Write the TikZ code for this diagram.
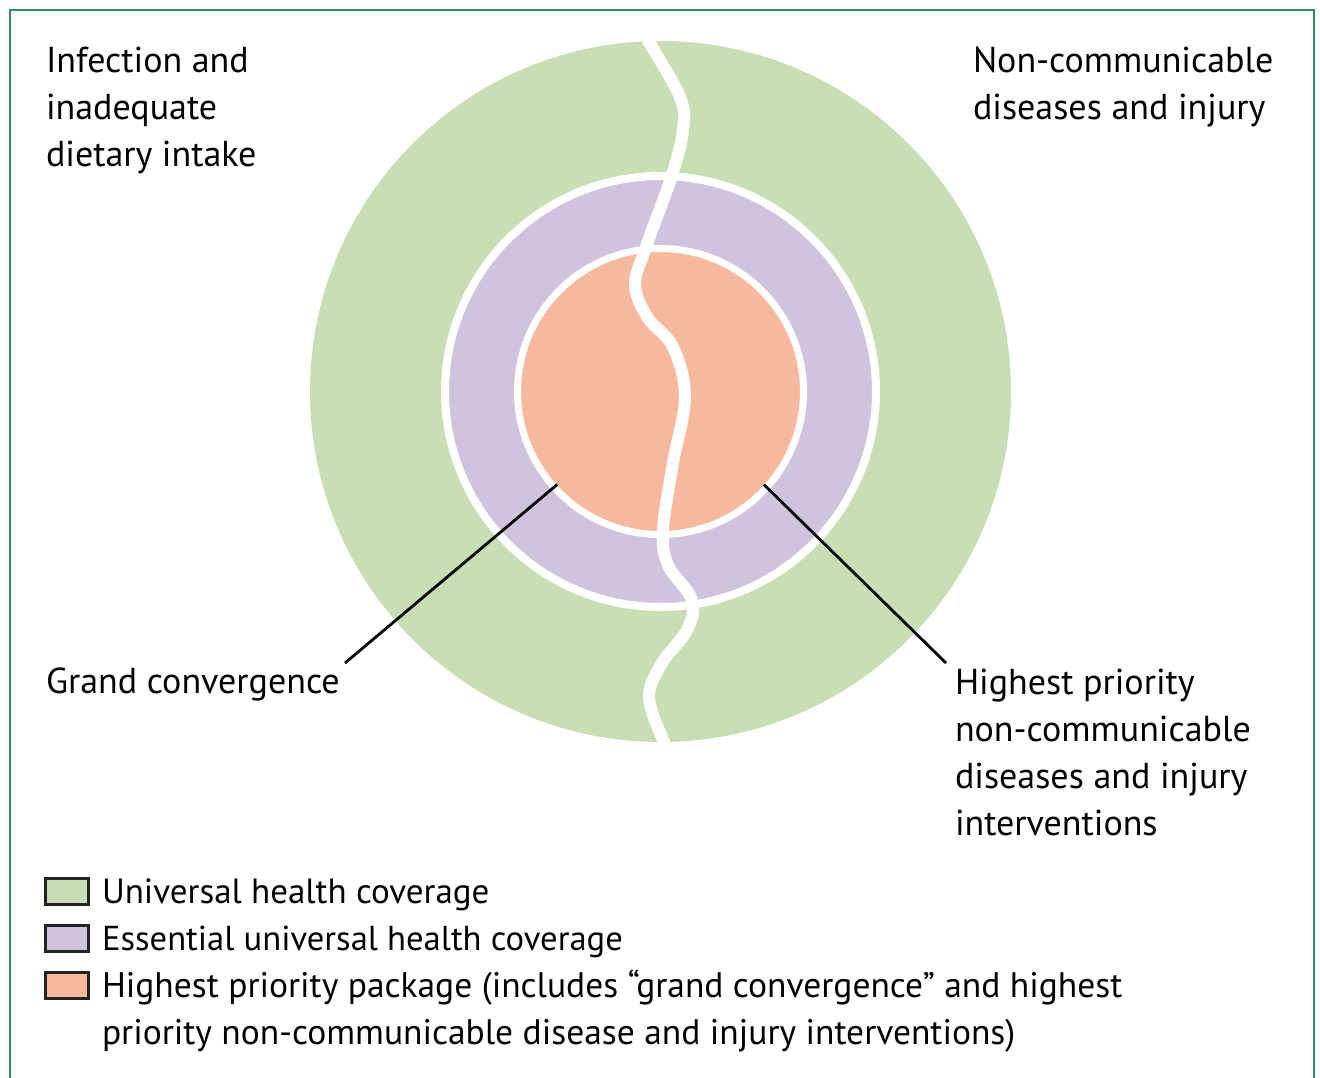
\documentclass[tikz,border=0pt]{standalone}
\usepackage{fontspec}
\setmainfont{PT Sans}
\definecolor{uhc}{RGB}{200,222,180}
\definecolor{euhc}{RGB}{208,195,222}
\definecolor{hpp}{RGB}{248,184,158}
\definecolor{framecol}{RGB}{46,140,86}
\definecolor{boxline}{RGB}{35,35,35}
\begin{document}
\begin{tikzpicture}[x=1pt,y=-1pt,
  lbl/.style={anchor=base west, inner sep=0pt, outer sep=0pt, align=left, font=\fontsize{36}{47}\selectfont},
  leglbl/.style={lbl, font=\fontsize{35}{47}\selectfont},
  leader/.style={line width=2.8pt, black},
  legbox/.style={draw=boxline, line width=2.5pt, minimum width=43pt, minimum height=26pt, inner sep=0pt, anchor=north west},
  ring/.style={circle, draw=white, inner sep=0pt}]
\useasboundingbox (0,0) rectangle (1320,1077);
\clip (0,0) rectangle (1320,1077);
\draw[framecol, line width=2pt] (10,1100) -- (10,10) -- (1314,10) -- (1314,1100);
% circles
\node[circle, fill=uhc, inner sep=0pt, minimum size=701pt] (uhc) at (660.5,391.5) {};
\node[ring, fill=euhc, line width=8pt, minimum size=431pt] (euhc) at (660.5,391.5) {};
\node[ring, fill=hpp, line width=7pt, minimum size=286pt] (hp) at (660.5,391.5) {};
% wavy divider
\draw[white, line width=12pt, line cap=round] plot[smooth, tension=0.6] coordinates {
 (638,22) (649,42) (680,97) (683,130) (672,175) (646,247) (635,285) (648,318) (673,347)
 (685,397) (673,463) (663,530) (668,565) (692,600) (687,630) (662,663) (649,697) (663,740) (672,758)};
% labels (base anchor = baseline of last line)
\node[lbl] (inf) at (46,166) {Infection and\\inadequate\\dietary intake};
\node[lbl] (ncd) at (973,119) {Non-communicable\\diseases and injury};
\node[lbl] (gc) at (46,693) {Grand convergence};
\node[lbl] (hpn) at (955,835) {Highest priority\\non-communicable\\diseases and injury\\interventions};
% leaders
\coordinate (gcend) at (345,663);
\coordinate (hpend) at (946,663);
\draw[leader] (hp.center) ++(138:139) -- (gcend);
\draw[leader] (hp.center) ++(42:139) -- (hpend);
% legend
\node[legbox, fill=uhc] (b1) at (44,877) {};
\node[legbox, fill=euhc] (b2) at (44,924) {};
\node[legbox, fill=hpp] (b3) at (44,971) {};
\node[leglbl] (l1) at (102,903) {Universal health coverage};
\node[leglbl, font=\fontsize{34.6}{47}\selectfont] (l2) at (102,950) {Essential universal health coverage};
\node[leglbl, font=\fontsize{35.5}{47}\selectfont] (l3) at (102,1044) {Highest priority package (includes “grand convergence” and highest\\priority non-communicable disease and injury interventions)};
\end{tikzpicture}
\end{document}
